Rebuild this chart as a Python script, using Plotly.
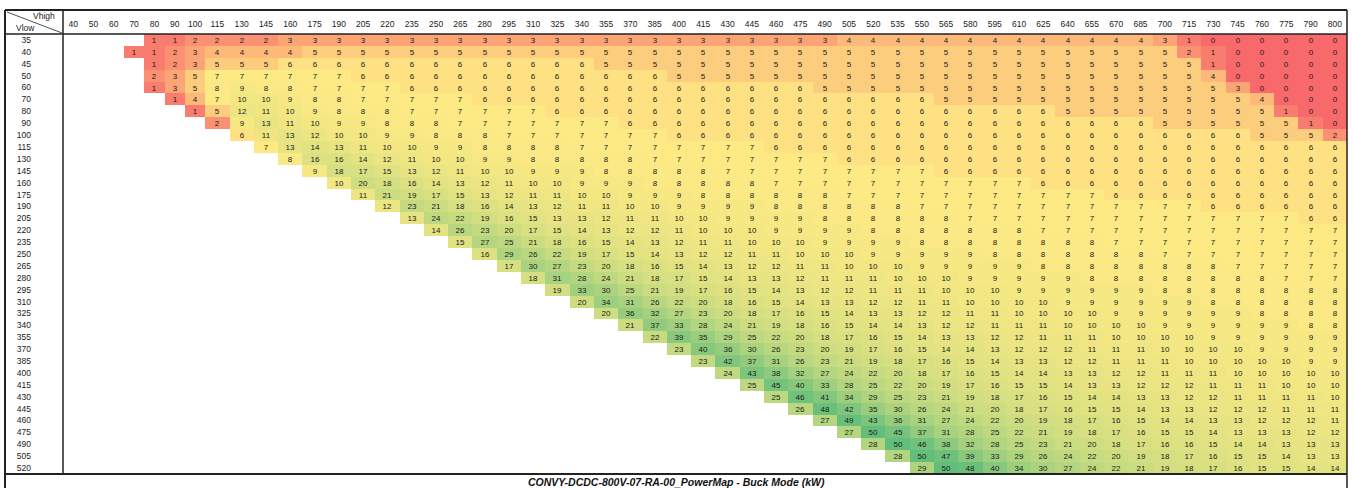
import numpy as np
import plotly.graph_objects as go

# ---------------- data ----------------
vhigh = [40, 50, 60, 70, 80, 90, 100, 115, 130, 145, 160, 175, 190, 205, 220, 235, 250, 265,
         280, 295, 310, 325, 340, 355, 370, 385, 400, 415, 430, 445, 460, 475, 490, 505, 520,
         535, 550, 565, 580, 595, 610, 625, 640, 655, 670, 685, 700, 715, 730, 745, 760, 775,
         790, 800]
vlow = [35, 40, 45, 50, 60, 70, 80, 90, 100, 115, 130, 145, 160, 175, 190, 205, 220, 235, 250,
        265, 280, 295, 310, 325, 340, 355, 370, 385, 400, 415, 430, 445, 460, 475, 490, 505, 520]

# each row lists its values up to Vhigh = 800 (cells left of the first value are empty)
r035 = [1, 1, 2, 2, 2, 2, 3, 3, 3, 3, 3] + [3]*13 + [3, 3, 3, 3, 3] + [4]*8 + [4, 4, 4, 4, 4, 3, 1, 0, 0, 0, 0, 0, 0]
r040 = [1, 1, 2, 3, 4, 4, 4, 4, 5, 5, 5, 5] + [5]*13 + [5]*13 + [5, 5, 5, 5, 5, 5, 2, 1, 0, 0, 0, 0, 0]
r045 = [1, 2, 3, 5, 5, 5, 6, 6, 6, 6, 6] + [6]*8 + [5]*5 + [5]*13 + [5, 5, 5, 5, 5, 5, 5, 1, 0, 0, 0, 0, 0]
r050 = [2, 3, 5, 7, 7, 7, 7, 7, 7, 6, 6] + [6]*11 + [5, 5] + [5]*13 + [5, 5, 5, 5, 5, 5, 5, 4, 0, 0, 0, 0, 0]
r060 = [1, 3, 5, 8, 9, 8, 8, 7, 7, 7, 7] + [6]*13 + [6, 6, 6, 6] + [5]*9 + [5, 5, 5, 5, 5, 5, 5, 5, 3, 0, 0, 0, 0]
r070 = [1, 4, 7, 10, 10, 9, 8, 8, 7, 7] + [7, 7, 7] + [6]*10 + [6]*9 + [5]*4 + [5]*9 + [4, 0, 0, 0]
r080 = [1, 5, 12, 11, 10, 9, 8, 8, 8] + [7]*6 + [6]*7 + [6]*13 + [6] + [5]*9 + [1, 0, 0]
r090 = [2, 9, 13, 11, 10, 9, 9, 8] + [8, 8] + [7]*7 + [6]*4 + [6]*13 + [6]*5 + [5]*6 + [1, 0]
r100 = [6, 11, 13, 12, 10, 10, 9] + [9, 8, 8, 8] + [7]*7 + [6, 6] + [6]*13 + [6]*9 + [5, 5, 5, 2]
r115 = [7, 13, 14, 13, 11, 10] + [10, 9, 9, 8, 8, 8, 8] + [7]*6 + [7, 7] + [6]*11 + [6]*13
r130 = [8, 16, 16, 14, 12] + [11, 10, 10, 9, 9, 8, 8, 8, 8, 8, 7, 7, 7] + [7]*5 + [6]*8 + [6]*13
r145 = [9, 18, 17, 15] + [13, 12, 11, 10, 10, 9, 9, 9, 8, 8, 8, 8, 8] + [7]*9 + [6]*4 + [6]*13
r160 = [10, 20, 18] + [16, 14, 13, 12, 11, 10, 10, 9, 9, 9, 8, 8, 8] + [8, 8] + [7]*11 + [6]*13
r175 = [11, 21] + [19, 17, 15, 13, 12, 11, 11, 10, 10, 9, 9, 9, 8] + [8]*5 + [7]*8 + [7, 7, 7] + [6]*10
r190 = [12] + [23, 21, 18, 16, 14, 13, 12, 11, 11, 10, 10, 9, 9] + [9, 9] + [8]*6 + [7]*5 + [7]*7 + [6]*6
r205 = [13, 24, 22, 19, 16, 15, 13, 13, 12, 11, 11, 10, 10] + [9, 9, 9, 9] + [8]*6 + [7, 7, 7] + [7]*11 + [6, 6]
r220 = [14, 26, 23, 20, 17, 15, 14, 13, 12, 12, 11, 10] + [10, 10, 9, 9, 9, 9] + [8]*7 + [7]*13
r235 = [15, 27, 25, 21, 18, 16, 15, 14, 13, 12, 11] + [11, 10, 10, 10, 9, 9, 9, 9] + [8]*5 + [8, 8, 8] + [7]*10
r250 = [16, 29, 26, 22, 19, 17, 15, 14, 13, 12] + [12, 11, 11, 10, 10, 10, 9, 9, 9, 9, 9, 8, 8] + [8]*5 + [7]*8
r265 = [17, 30, 27, 23, 20, 18, 16, 15, 14] + [13, 12, 12, 11, 11, 10, 10, 10, 9, 9, 9, 9, 9] + [8]*8 + [7]*5
r280 = [18, 31, 28, 24, 21, 18, 17, 15] + [14, 13, 13, 12, 11, 11, 11, 10, 10, 10, 9, 9, 9] + [9, 9] + [8]*8 + [7]*3
r295 = [19, 33, 30, 25, 21, 19, 17] + [16, 15, 14, 13, 12, 12, 11, 11, 11, 10, 10, 10, 9] + [9]*5 + [8]*8
r310 = [20, 34, 31, 26, 22, 20] + [18, 16, 15, 14, 13, 13, 12, 12, 11, 11, 10, 10, 10] + [10] + [9]*6 + [8]*6
r325 = [20, 36, 32, 27, 23] + [20, 18, 17, 16, 15, 14, 13, 13, 12, 12, 11, 11, 10] + [10, 10, 10] + [9]*6 + [8]*4
r340 = [21, 37, 33, 28] + [24, 21, 19, 18, 16, 15, 14, 14, 13, 12, 12, 11, 11] + [11, 10, 10, 10, 10, 9, 9, 9, 9, 9, 9, 8, 8]
r355 = [22, 39, 35] + [29, 25, 22, 20, 18, 17, 16, 15, 14, 13, 13, 12, 12] + [11, 11, 11, 10, 10, 10, 10, 9, 9, 9, 9, 9, 9]
r370 = [23, 40] + [36, 30, 26, 23, 20, 19, 17, 16, 15, 14, 14, 13, 12] + [12, 12, 11, 11, 11, 10, 10, 10, 10, 9, 9, 9, 9]
r385 = [23] + [42, 37, 31, 26, 23, 21, 19, 18, 17, 16, 15, 14, 13] + [13, 12, 12, 11, 11, 11, 10, 10, 10, 10, 10, 9, 9]
r400 = [24, 43, 38, 32, 27, 24, 22, 20, 18, 17, 16, 15, 14] + [14, 13, 13, 12, 12, 11, 11, 11, 10, 10, 10, 10, 10]
r415 = [25, 45, 40, 33, 28, 25, 22, 20, 19, 17, 16, 15] + [15, 14, 13, 13, 12, 12, 12, 11, 11, 11, 10, 10, 10]
r430 = [25, 46, 41, 34, 29, 25, 23, 21, 19, 18, 17] + [16, 15, 14, 14, 13, 13, 12, 12, 11, 11, 11, 11, 10]
r445 = [26, 48, 42, 35, 30, 26, 24, 21, 20, 18] + [17, 16, 15, 15, 14, 13, 13, 12, 12, 12, 11, 11, 11]
r460 = [27, 49, 43, 36, 31, 27, 24, 22, 20] + [19, 18, 17, 16, 15, 14, 14, 13, 13, 12, 12, 12, 11]
r475 = [27, 50, 45, 37, 31, 28, 25, 22] + [21, 19, 18, 17, 16, 15, 15, 14, 13, 13, 13, 12, 12]
r490 = [28, 50, 46, 38, 32, 28, 25] + [23, 21, 20, 18, 17, 16, 16, 15, 14, 14, 13, 13, 13]
r505 = [28, 50, 47, 39, 33, 29] + [26, 24, 22, 20, 19, 18, 17, 16, 15, 15, 14, 13, 13]
r520 = [29, 50, 48, 40, 34] + [30, 27, 24, 22, 21, 19, 18, 17, 16, 15, 15, 14, 14]

rows = [r035, r040, r045, r050, r060, r070, r080, r090, r100, r115, r130, r145, r160, r175,
        r190, r205, r220, r235, r250, r265, r280, r295, r310, r325, r340, r355, r370, r385,
        r400, r415, r430, r445, r460, r475, r490, r505, r520]

title_text = "CONVY-DCDC-800V-07-RA-00_PowerMap - Buck Mode (kW)"

# ---------------- build matrix ----------------
ncol = len(vhigh)
Z = []
T = []
for r in rows:
    pad = ncol - len(r)
    full = [None] * pad + list(r)
    Z.append(full)
    T.append(["" if v is None else str(v) for v in full])

vals = np.array([v for r in rows for v in r], dtype=float)
zmin, zmax = vals.min(), vals.max()
zmid = 6.5  # yellow midpoint of the 3-colour scale
mid_frac = (zmid - zmin) / (zmax - zmin)

# column widths (narrow first columns as in the sheet)
widths = [20.3 if v <= 100 else 24.27 for v in vhigh]
edges = np.concatenate([[0], np.cumsum(widths)])
centers = (edges[:-1] + edges[1:]) / 2

W, H = 1353, 488
L, R, TOP, B = 63, 6, 34, 14
pw, ph = W - L - R, H - TOP - B


def px(x):
    return (x - L) / pw


def py(y):
    return (H - B - y) / ph


FONT = "Liberation Sans, Arial, sans-serif"

fig = go.Figure(go.Heatmap(
    z=Z, x=edges, y=list(range(len(vlow))),
    text=T, texttemplate="%{text}",
    textfont=dict(family=FONT, size=8, color="#1a1a1a"),
    colorscale=[[0, "#F8696B"], [mid_frac, "#FFEB84"], [1, "#63BE7B"]],
    zmin=zmin, zmax=zmax, showscale=False, hoverongaps=False,
))

fig.update_xaxes(range=[0, edges[-1]], tickvals=centers, ticktext=[str(v) for v in vhigh],
                 side="top", showgrid=False, zeroline=False, showline=False, ticks="",
                 tickfont=dict(family=FONT, size=8.5, color="#222"),
                 ticklabelstandoff=4, fixedrange=True)
fig.update_yaxes(range=[len(vlow) - 0.5, -0.5], tickvals=list(range(len(vlow))),
                 ticktext=[str(v) for v in vlow], showgrid=False, zeroline=False,
                 showline=False, ticks="",
                 tickfont=dict(family=FONT, size=8.5, color="#222"),
                 ticklabelstandoff=31, fixedrange=True)

lc = "#222222"
shapes = []


def line(x0, y0, x1, y1, w=1.5):
    shapes.append(dict(type="line", xref="paper", yref="paper",
                       x0=px(x0), y0=py(y0), x1=px(x1), y1=py(y1),
                       line=dict(color=lc, width=w)))


line(5, 10, 1347, 10, 2)          # top
line(5, 34, 1347, 34, 1.5)        # under header
line(5, 474, 1347, 474, 2)        # under data
line(5, 10, 5, 488, 2)            # left outer
line(1347, 10, 1347, 488, 1.5)    # right outer
line(63, 10, 63, 474, 1.5)        # label column
line(7, 12, 62, 33, 0.8)          # diagonal in corner

annotations = [
    dict(text="Vhigh", x=px(57), y=py(16), xref="paper", yref="paper", xanchor="right",
         yanchor="middle", showarrow=False, font=dict(family=FONT, size=8.5, color="#222")),
    dict(text="Vlow", x=px(14), y=py(28), xref="paper", yref="paper", xanchor="left",
         yanchor="middle", showarrow=False, font=dict(family=FONT, size=8.5, color="#222")),
    dict(text="<b><i>" + title_text + "</i></b>", x=px(676), y=py(482), xref="paper",
         yref="paper", xanchor="center", yanchor="middle", showarrow=False,
         font=dict(family=FONT, size=10.5, color="#111")),
]

fig.update_layout(width=W, height=H, margin=dict(l=L, r=R, t=TOP, b=B, pad=0),
                  paper_bgcolor="white", plot_bgcolor="white",
                  shapes=shapes, annotations=annotations)

fig.write_html("out.html", config={"displayModeBar": False},
               post_script="document.body.style.margin='0';document.body.style.overflow='hidden';")
